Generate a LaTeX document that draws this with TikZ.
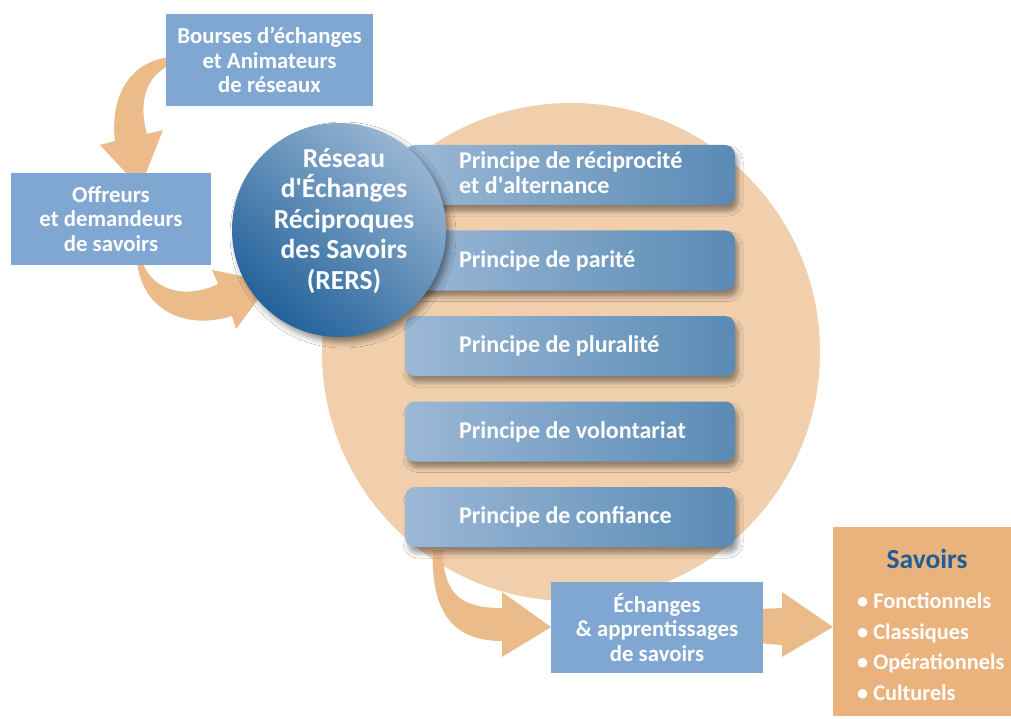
\documentclass[tikz,border=0pt]{standalone}
\usepackage{fontspec}
\setmainfont{Carlito}
\usetikzlibrary{shadows.blur}
\definecolor{boxblue}{HTML}{80A6D2}
\definecolor{peach}{HTML}{F1CFAD}
\definecolor{arroworange}{HTML}{EBBB8A}
\definecolor{savoirorange}{HTML}{EAB27D}
\definecolor{savoirtitle}{HTML}{1B5E98}
\definecolor{plight}{HTML}{9CB8D6}
\definecolor{pdark}{HTML}{5A8BB5}
\definecolor{cdark}{HTML}{23629A}
\definecolor{clight}{HTML}{97B5D3}
\tikzset{
  bluebox/.style={rectangle, fill=boxblue, inner sep=0pt, text=white, align=center,
    font=\fontsize{22.8}{24.5}\selectfont\bfseries},
  princbox/.style={rectangle, rounded corners=10pt, minimum width=330pt, minimum height=60pt,
    left color=plight, right color=pdark, inner sep=0pt,
    blur shadow={shadow xshift=3pt, shadow yshift=-6pt, shadow opacity=40, shadow blur radius=5pt}},
  princtext/.style={anchor=west, text=white, align=left, inner sep=0pt,
    font=\fontsize{24}{25}\selectfont\bfseries},
  blockarrow/.style={fill=arroworange, draw=none},
}
\begin{document}
\begin{tikzpicture}[x=1pt,y=-1pt]
\useasboundingbox (0,0) rectangle (1011,719);
\fill[white] (0,0) rectangle (1011,719);

% big peach circle
\node[circle, fill=peach, minimum size=498pt, inner sep=0pt] (bg) at (571,352) {};

% block arrows
\fill[blockarrow] (170,57) .. controls (128,62) and (110,98) .. (115,141) -- (100,145) -- (140,188) -- (163,130) -- (147,134) .. controls (138,102) and (146,76) .. (170,65) -- cycle;
\fill[blockarrow] (137,260) .. controls (140,305) and (180,332) .. (232,316) -- (236,329) -- (271,282) -- (212,270) -- (218,284) .. controls (185,300) and (150,290) .. (142,260) -- cycle;
\fill[blockarrow] (433,550) .. controls (430,620) and (460,641) .. (502,641) -- (502,657) -- (551,627) -- (502,592) -- (502,608) .. controls (465,608) and (443,598) .. (443,550) -- cycle;
\fill[blockarrow] (758,609) -- (782,608) -- (782,592) -- (833,627) -- (782,657) -- (782,645) -- (758,643) -- cycle;

% principle boxes
\node[princbox] (p1) at (570,175) {};
\node[princbox] (p2) at (570,260.5) {};
\node[princbox] (p3) at (570,346) {};
\node[princbox] (p4) at (570,431.5) {};
\node[princbox] (p5) at (570,517) {};
\node[princtext] (t1) at (459,173) {Principe de réciprocité\\et d\textquotesingle alternance};
\node[princtext] (t2) at (459,261) {Principe de parité};
\node[princtext] (t3) at (459,346) {Principe de pluralité};
\node[princtext] (t4) at (459,431.5) {Principe de volontariat};
\node[princtext] (t5) at (459,517) {Principe de confiance};

% RERS circle
\node[circle, minimum size=214pt, inner sep=0pt, top color=clight, bottom color=cdark, shading angle=-40,
  blur shadow={shadow xshift=4pt, shadow yshift=-5pt, shadow opacity=45, shadow blur radius=6pt}] (rers) at (339,230) {};
\node[text=white, align=center, inner sep=0pt, font=\fontsize{27.5}{30.5}\selectfont\bfseries] (rerst) at (344,221) {Réseau\\d\textquotesingle Échanges\\Réciproques\\des Savoirs\\(RERS)};

% blue boxes
\node[bluebox, minimum width=207pt, minimum height=92pt] (bourses) at (269.5,60) {Bourses d’échanges\\et Animateurs\\de réseaux};
\node[bluebox, minimum width=200pt, minimum height=92pt] (offreurs) at (111,219) {Offreurs\\et demandeurs\\de savoirs};
\node[bluebox, minimum width=212pt, minimum height=91pt] (echanges) at (657,627.5) {Échanges\\\&~apprentissages\\de savoirs};

% savoirs box
\node[rectangle, fill=savoirorange, minimum width=178pt, minimum height=189pt, inner sep=0pt] (savoirs) at (922,621.5) {};
\node[text=savoirtitle, inner sep=0pt, font=\fontsize{27.5}{30}\selectfont\bfseries] (savt) at (927,559) {Savoirs};
\node[text=white, anchor=west, align=left, inner sep=0pt, font=\fontsize{22.3}{30.5}\selectfont\bfseries] (savl) at (857,646.5) {• Fonctionnels\\• Classiques\\• Opérationnels\\• Culturels};
\end{tikzpicture}
\end{document}
